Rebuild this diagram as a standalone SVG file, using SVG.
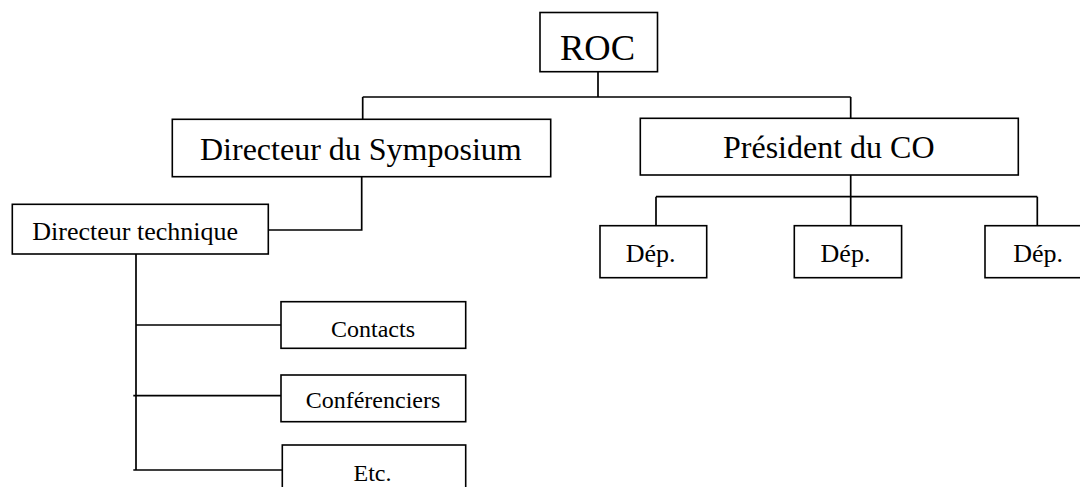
<svg xmlns="http://www.w3.org/2000/svg" width="1080" height="487" viewBox="0 0 1080 487">
<style>
.box{fill:#fff;stroke:#000;stroke-width:1.6}
.ln{fill:none;stroke:#000;stroke-width:1.7}
.t36{font-size:36.5px}.t32{font-size:32px}.t26{font-size:26px}.t24{font-size:24px}
</style>
<rect width="1080" height="487" fill="#fff"/>
<g id="connectors">
<path class="ln" d="M598 72V97M362.7 97H850.7M362.7 97V119M850.7 97V118.3"/>
<path class="ln" d="M361.7 177V230H268.3"/>
<path class="ln" d="M136 254V470M136 325H281M133.3 395.7H281M133.3 470H282.3"/>
<path class="ln" d="M850.7 175V225.7M656 196.7H1037.3M656 196.7V225.7M1037.3 196.7V225.7"/>
</g>
<g font-family="'Liberation Serif', 'Times New Roman', Times, serif" fill="#000">
<g id="roc"><rect class="box" x="540" y="12.5" width="117.5" height="59.2"/><text class="t36" x="560" y="60">ROC</text></g>
<g id="directeur-symposium"><rect class="box" x="172.3" y="119.3" width="378.4" height="57.4"/><text class="t32" x="200" y="160">Directeur du Symposium</text></g>
<g id="president-co"><rect class="box" x="640.3" y="118.3" width="378" height="56.7"/><text class="t32" x="723" y="158.3">Président du CO</text></g>
<g id="directeur-technique"><rect class="box" x="12.3" y="204.3" width="256" height="49.7"/><text class="t26" x="32.3" y="240">Directeur technique</text></g>
<g id="dep1"><rect class="box" x="600" y="225.7" width="106.7" height="52"/><text class="t26" x="625.7" y="262.3">Dép.</text></g>
<g id="dep2"><rect class="box" x="794.3" y="225.7" width="107.3" height="52"/><text class="t26" x="820.6" y="262.3">Dép.</text></g>
<g id="dep3"><rect class="box" x="985" y="225.7" width="107" height="52"/><text class="t26" x="1013.3" y="262.3">Dép.</text></g>
<g id="contacts"><rect class="box" x="281" y="301.7" width="184.7" height="46.6"/><text class="t24" x="373" y="337.3" text-anchor="middle">Contacts</text></g>
<g id="conferenciers"><rect class="box" x="281" y="375" width="184.7" height="46.7"/><text class="t24" x="373" y="408.3" text-anchor="middle">Conférenciers</text></g>
<g id="etc"><rect class="box" x="282.3" y="445" width="183.4" height="47"/><text class="t24" x="372.5" y="480.7" text-anchor="middle">Etc.</text></g>
</g>
</svg>
